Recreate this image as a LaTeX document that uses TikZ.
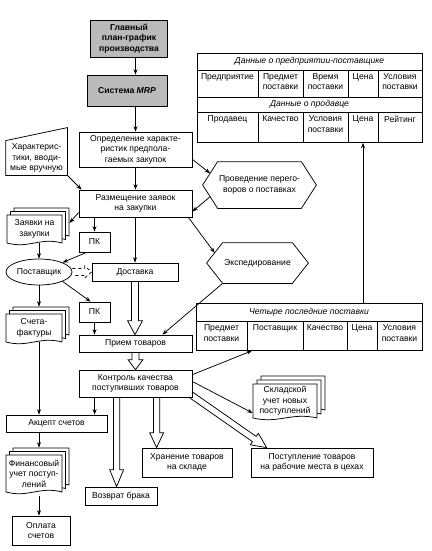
\documentclass[tikz,border=0pt]{standalone}
\usepackage{fontspec}
\setmainfont{Liberation Sans}
\usetikzlibrary{calc,arrows.meta,shapes.geometric}
% document page shape
\newcommand\docsh[4]{%
  \draw[fill=white] ({#1},{#2}) -- ({#3},{#2}) -- ({#3},{#4})
    .. controls ({(#3)-0.4*((#3)-(#1))},{(#4)-6}) and ({(#1)+0.4*((#3)-(#1))},{(#4)+6}) .. ({#1},{#4}) -- cycle;}
% multi-document stack with named front node
\newcommand\mdoc[7]{%
  \docsh{#2+2*#7}{#3-2*#7}{#4+2*#7}{#5-2*#7}
  \docsh{#2+#7}{#3-#7}{#4+#7}{#5-#7}
  \docsh{#2}{#3}{#4}{#5}
  \node[minimum width={(#4)-(#2)}, minimum height={(#5)-(#3)}] (#1) at ({((#2)+(#4))/2},{((#3)+(#5))/2}) {#6};}
% hexagon around a node
\newcommand\hexa[2]{%
  \coordinate (#1-tl) at ($(#1.north west)+(#2,0)$);
  \coordinate (#1-tr) at ($(#1.north east)+(-#2,0)$);
  \coordinate (#1-bl) at ($(#1.south west)+(#2,0)$);
  \coordinate (#1-br) at ($(#1.south east)+(-#2,0)$);
  \draw (#1.west) -- (#1-tl) -- (#1-tr) -- (#1.east) -- (#1-br) -- (#1-bl) -- cycle;}
% hollow (outline) arrow
\newcommand\harrow[6][]{%
  \coordinate (ha) at #2; \coordinate (hb) at #3;
  \coordinate (hh) at ($(hb)!#6!(ha)$);
  \draw[#1] ($(ha)!#4!90:(hb)$) -- ($(hh)!#4!90:(hb)$) -- ($(hh)!#5!90:(hb)$) -- (hb)
    -- ($(hh)!#5!-90:(hb)$) -- ($(hh)!#4!-90:(hb)$) -- ($(ha)!#4!-90:(hb)$);}
\begin{document}
\begin{tikzpicture}[x=1pt,y=-1pt,line width=0.75pt,
  every node/.style={font=\fontsize{8.6}{10.6}\selectfont, align=center, inner sep=0pt},
  box/.style={draw},
  gbox/.style={draw, fill=black!27},
  arr/.style={-{Stealth[length=5.5pt,width=4pt]}},
  ttl/.style={font=\fontsize{8.6}{10.6}\selectfont\itshape},
  cell/.style={anchor=north}]
\useasboundingbox (0,0) rectangle (431,551);

% main column
\node[gbox, minimum width=77pt, minimum height=37pt] (plan) at (129,38.5) {\bfseries Главный\\\bfseries план-график\\\bfseries производства};
\node[gbox, minimum width=80pt, minimum height=31pt] (mrp) at (127,90.5) {\bfseries Система \textit{MRP}};
\node[box, minimum width=113pt, minimum height=35pt] (opr) at (135.5,149.5) {Определение характе-\\ристик предпола-\\гаемых закупок};
\node[box, minimum width=113pt, minimum height=27pt] (razm) at (135.5,203.5) {Размещение заявок\\на закупки};
\node[box, minimum width=31pt, minimum height=20pt] (pk1) at (94.5,242) {ПК};
\node[box, minimum width=86pt, minimum height=18pt] (dost) at (135,272) {Доставка};
\node[box, minimum width=31pt, minimum height=20pt] (pk2) at (94.5,312) {ПК};
\node[box, minimum width=113pt, minimum height=17pt] (priem) at (135.5,343.5) {Прием товаров};
\node[box, minimum width=113pt, minimum height=27pt] (kontr) at (135.5,383.5) {Контроль качества\\поступивших товаров};
\node[box, minimum width=101pt, minimum height=17pt] (akcept) at (56.5,423.5) {Акцепт счетов};
\node[box, minimum width=58pt, minimum height=29pt] (opl) at (41,530.5) {Оплата\\счетов};
\node[box, minimum width=72pt, minimum height=18pt] (vozvr) at (121,496) {Возврат брака};
\node[box, minimum width=90pt, minimum height=29pt] (hran) at (187,462.5) {Хранение товаров\\на складе};
\node[box, minimum width=122pt, minimum height=29pt] (postup) at (312,462.5) {Поступление товаров\\на рабочие места в цехах};
\node[draw, ellipse, minimum width=66pt, minimum height=26pt] (post) at (39,272) {Поставщик};

% manual input
\node[minimum width=61pt, minimum height=34pt] (har) at (36.5,158) {Характерис-\\тики, вводи-\\мые вручную};
\draw (har.south west) -- (har.north west) -- ($(har.north east)+(0,-13)$) -- (har.south east) -- cycle;

% documents
\mdoc{zayav}{7}{215}{62}{243}{Заявки на\\закупки}{3.5}
\mdoc{schet}{6}{314}{62}{342}{Счета-\\фактуры}{3.5}
\mdoc{fin}{6}{455}{62}{492}{Финансовый\\учет поступ-\\лений}{3.5}
\mdoc{sklad}{253}{384}{317}{418}{Складской\\учет новых\\поступлений}{4}

% hexagons
\node[minimum width=113pt, minimum height=46pt] (hex1) at (259.5,185) {Проведение перего-\\воров о поставках};
\hexa{hex1}{15}
\node[minimum width=101pt, minimum height=40pt] (hex2) at (257.5,263) {Экспедирование};
\hexa{hex2}{16}

% table 1
\node[draw, minimum width=225pt, minimum height=89pt, anchor=north west] (t1) at (197,53) {};
\draw (197,70) -- (422,70) (197,97) -- (422,97) (197,112) -- (422,112);
\foreach \xx in {258,303,348,378} {\draw (\xx,70) -- (\xx,97) (\xx,112) -- (\xx,142);}
\node[ttl] (t1h1) at (309.5,61.5) {Данные о предприятии-поставщике};
\node[cell] (t1a) at (227.5,73) {Предприятие};
\node[cell] (t1b) at (280.5,73) {Предмет\\поставки};
\node[cell] (t1c) at (325.5,73) {Время\\поставки};
\node[cell] (t1d) at (363,73) {Цена};
\node[cell] (t1e) at (400,73) {Условия\\поставки};
\node[ttl] (t1h2) at (309.5,104.5) {Данные о продавце};
\node[cell] (t1f) at (227.5,115.5) {Продавец};
\node[cell] (t1g) at (280.5,115.5) {Качество};
\node[cell] (t1h) at (325.5,115.5) {Условия\\поставки};
\node[cell] (t1i) at (363,115.5) {Цена};
\node[cell] (t1j) at (400,115.5) {Рейтинг};

% table 3
\node[draw, minimum width=226pt, minimum height=47pt, anchor=north west] (t3) at (196,303) {};
\draw (196,321) -- (422,321);
\foreach \xx in {247,303,347,377} {\draw (\xx,321) -- (\xx,350);}
\node[ttl] (t3h) at (309,312) {Четыре последние поставки};
\node[cell] (t3a) at (221.5,324.5) {Предмет\\поставки};
\node[cell] (t3b) at (275,324.5) {Поставщик};
\node[cell] (t3c) at (325,324.5) {Качество};
\node[cell] (t3d) at (362,324.5) {Цена};
\node[cell] (t3e) at (399.5,324.5) {Условия\\поставки};

% connectors
\coordinate (c0) at (plan.south -| opr.south);
\draw[arr] (c0) -- (c0 |- mrp.north);
\draw[arr] (mrp.south -| opr.south) -- (opr.north);
\draw[arr] (opr.south) -- (razm.north);
\draw[arr] (har.south east) -- ($(razm.north west)+(3,0)$);
\draw[arr] ($(opr.south east)+(0,-8)$) -- ($(hex1.west)!0.5!(hex1-tl)$);
\draw[arr] ($(hex1.west)!0.5!(hex1-bl)$) -- ($(razm.east)+(0,8)$);
\draw[arr] ($(razm.south east)+(-4,0)$) -- ($(hex2.west)!0.5!(hex2-tl)$);
\draw[arr] ($(razm.west)+(0,9)$) -- ($(zayav.east)+(7,-6)$);
\draw[arr] (razm.south -| pk1) -- (pk1.north);
\draw[arr] (razm.south -| dost) -- (dost.north);
\draw[arr] ($(pk1.south west)+(8,0)$) -- (post.north east);
\draw[arr] (zayav.south -| post) -- (post.north);
\harrow[dashed]{(post.east)}{(dost.west |- post.east)}{3.5pt}{6pt}{7pt}
\draw[arr] (post.south) -- ($(post.south |- schet.north)+(0,-7)$);
\draw[arr] (post.south east) -- ($(pk2.north west)+(12,0)$);
\draw[arr] (pk2.south) -- (pk2.south |- priem.north);
\harrow{(dost.south)}{(dost.south |- priem.north)}{3.5pt}{7.5pt}{14pt}
\draw[arr] (hex2-bl) -- ($(priem.north east)+(-30,0)$);
\harrow{(priem.south)}{(priem.south |- kontr.north)}{3.5pt}{7.5pt}{10pt}
\draw[arr] (post.south |- schet.south) -- (post.south |- akcept.north);
\coordinate (k1) at ($(kontr.south west)+(16,0)$);
\draw[arr] (k1) -- (k1 |- akcept.north);
\draw[arr] (post.south |- akcept.south) -- ($(post.south |- fin.north)+(0,-7)$);
\draw[arr] ($(post.south |- fin.south)+(0,4)$) -- (post.south |- opl.north);
\coordinate (k2) at ($(kontr.south west)+(38,0)$);
\harrow{(k2)}{(k2 |- vozvr.north)}{3.2pt}{7pt}{17pt}
\coordinate (k3) at ($(kontr.south west)+(78,0)$);
\harrow{(k3)}{(k3 |- hran.north)}{3.2pt}{7pt}{15pt}
\draw[arr] ($(kontr.east)+(0,-2)$) -- ($(sklad.west)+(0,12)$);
\harrow{($(kontr.south east)+(-2,-3)$)}{($(postup.north west)+(16,0)$)}{3.2pt}{7pt}{15pt}
\draw[arr] ($(kontr.north east)+(0,5)$) -- ($(t3.south west)+(56,0)$);
\coordinate (t3up) at ($(t3.north west)+(167,0)$);
\draw[arr] (t3up) -- (t3up |- t1.south);
\end{tikzpicture}
\end{document}
